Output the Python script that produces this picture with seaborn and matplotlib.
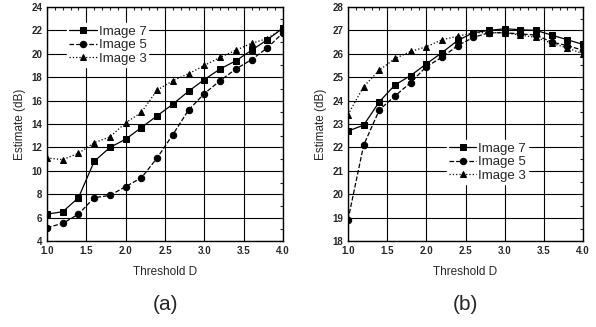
import numpy as np
import pandas as pd
import matplotlib
matplotlib.use('Agg')
import matplotlib.pyplot as plt
import seaborn as sns
from matplotlib.ticker import MultipleLocator

sns.set_style('white')
plt.rcParams['font.family'] = ['Liberation Sans', 'DejaVu Sans']

threshold = [1.0, 1.2, 1.4, 1.6, 1.8, 2.0, 2.2, 2.4, 2.6, 2.8, 3.0, 3.2, 3.4, 3.6, 3.8, 4.0]

# panel (a)
a_img7 = [6.3, 6.5, 7.7, 10.8, 12.0, 12.7, 13.7, 14.7, 15.7, 16.8, 17.8, 18.7, 19.4, 20.3, 21.2, 22.2]
a_img5 = [5.15, 5.5, 6.3, 7.7, 7.9, 8.65, 9.4, 11.1, 13.1, 15.2, 16.6, 17.7, 18.7, 19.5, 20.5, 21.8]
a_img3 = [11.1, 10.95, 11.5, 12.4, 12.9, 14.1, 15.0, 16.9, 17.7, 18.3, 19.0, 19.7, 20.3, 20.9, 21.3, 22.2]

# panel (b)
b_img7 = [22.7, 22.95, 23.95, 24.67, 25.07, 25.57, 26.05, 26.57, 26.9, 27.0, 27.07, 27.03, 27.0, 26.8, 26.6, 26.4]
b_img5 = [18.9, 22.1, 23.6, 24.2, 24.77, 25.45, 25.85, 26.35, 26.7, 26.9, 26.9, 26.85, 26.8, 26.5, 26.35, 26.15]
b_img3 = [23.4, 24.6, 25.3, 25.8, 26.1, 26.3, 26.6, 26.75, 26.9, 26.9, 26.9, 26.8, 26.7, 26.45, 26.25, 26.0]

series_names = ['Image 7', 'Image 5', 'Image 3']
styles = {'Image 7': ('-', 's'), 'Image 5': ('--', 'o'), 'Image 3': (':', '^')}

fig = plt.figure(figsize=(5.96, 3.27), dpi=100)
ax_a = fig.add_axes([47 / 596, 1 - 241 / 327, 236 / 596, 234 / 327])
ax_b = fig.add_axes([348 / 596, 1 - 241 / 327, 235 / 596, 234 / 327])


def draw(ax, values, ylim, ystep, legend_anchor, label):
    for name, vals in zip(series_names, values):
        ls, mk = styles[name]
        sns.lineplot(x=threshold, y=vals, ax=ax, color='black', linestyle=ls, lw=0.9,
                     marker=mk, markersize=4.6, markeredgecolor='black', label=name)
    ax.set_xlim(1.0, 4.0)
    ax.set_ylim(*ylim)
    ax.xaxis.set_major_locator(MultipleLocator(0.5))
    ax.xaxis.set_minor_locator(MultipleLocator(0.1))
    ax.yaxis.set_major_locator(MultipleLocator(ystep))
    ax.yaxis.set_minor_locator(MultipleLocator(ystep / 2))
    ax.grid(True, which='major', color='black', lw=0.8)
    ax.tick_params(which='both', direction='in', top=True, right=True, labelsize=7, width=0.8)
    ax.tick_params(which='major', length=3)
    ax.tick_params(which='minor', length=2)
    for lab in ax.get_xticklabels() + ax.get_yticklabels():
        lab.set_fontweight('bold')
    for sp in ax.spines.values():
        sp.set_color('black')
        sp.set_linewidth(1.0)
    ax.xaxis.set_major_formatter(matplotlib.ticker.FormatStrFormatter('%.1f'))
    ax.set_xlabel('Threshold D', fontsize=8.5, labelpad=7)
    ax.set_ylabel('Estimate (dB)', fontsize=8.5, labelpad=4)
    ax.legend(loc='upper left', bbox_to_anchor=legend_anchor, fontsize=9.5, frameon=True,
              framealpha=1, edgecolor='white', facecolor='white', handlelength=2.1,
              borderpad=0.15, borderaxespad=0, labelspacing=0.1, handletextpad=0.15)
    ax.text(0.5, -0.27, label, transform=ax.transAxes, ha='center', va='center', fontsize=15)


draw(ax_a, [a_img7, a_img5, a_img3], (4, 24), 2, (0.085, 0.93), '(a)')
draw(ax_b, [b_img7, b_img5, b_img3], (18, 28), 1, (0.42, 0.43), '(b)')

fig.savefig('out.png', dpi=100)
